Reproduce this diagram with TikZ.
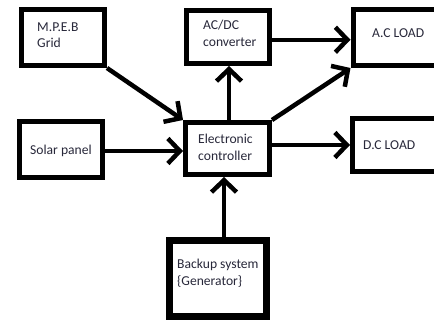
\documentclass[tikz,border=0pt]{standalone}
\usepackage{fontspec}
\setmainfont{Carlito}
\usetikzlibrary{arrows.meta,calc}
\definecolor{txtcol}{RGB}{40,40,58}
\begin{document}
\begin{tikzpicture}[x=1pt,y=-1pt,
  box/.style={draw=black,line width=5pt,minimum width=#1,inner sep=0pt,fill=none},
  lbl/.style={anchor=west,align=left,inner sep=0pt,text=txtcol,font=\fontsize{13.6}{16.5}\selectfont},
  conn/.style={line width=4.5pt,-{Straight Barb[length=12pt,width=25pt]}}]
\clip (0,0) rectangle (434,322);
\fill[white] (0,0) rectangle (434,322);
% boxes
\node[box=83.5pt,minimum height=56.5pt] (grid) at (62.75,37.25) {};
\node[box=83.5pt,minimum height=56pt] (solar) at (60.75,149.5) {};
\node[box=84pt,minimum height=52pt] (ctrl) at (227.5,148.5) {};
\node[box=82.5pt,minimum height=53.5pt] (acdc) at (227.75,36.75) {};
\node[box=97pt,minimum height=56pt] (acload) at (401.5,37.5) {};
\node[box=97pt,minimum height=53pt] (dcload) at (401,145) {};
\node[box=97pt,minimum height=76pt,line width=7pt] (backup) at (217.5,278) {};
% labels
\node[lbl] (tgrid) at (37,35) {M.P.E.B\\Grid};
\node[lbl] (tsolar) at (30,151) {Solar panel};
\node[lbl] (tctrl) at (198,147.5) {Electronic\\controller};
\node[lbl] (tacdc) at (203,33.5) {AC/DC\\converter};
\node[lbl] (tac) at (372,33) {A.C LOAD};
\node[lbl] (tdc) at (363,145) {D.C LOAD};
\node[lbl] (tbackup) at (177,273) {Backup system\\\{Generator\}};
% connectors
\draw[conn] (grid.south east) -- (ctrl.north west);
\draw[conn] ([yshift=-1.5pt]solar.east) -- ([yshift=-1.5pt]solar.east -| ctrl.west);
\draw[conn] ([xshift=1.5pt]ctrl.north) -- ([xshift=1.5pt]ctrl.north |- acdc.south);
\draw[conn] ([yshift=-3pt]acdc.east) -- ([yshift=-3pt]acdc.east -| acload.west);
\draw[conn] (ctrl.north east) -- (acload.south west);
\draw[conn] (dcload.west -| ctrl.east) -- (dcload.west);
\draw[conn] ([xshift=6.5pt]backup.north) -- ([xshift=6.5pt]backup.north |- ctrl.south);
\end{tikzpicture}
\end{document}
